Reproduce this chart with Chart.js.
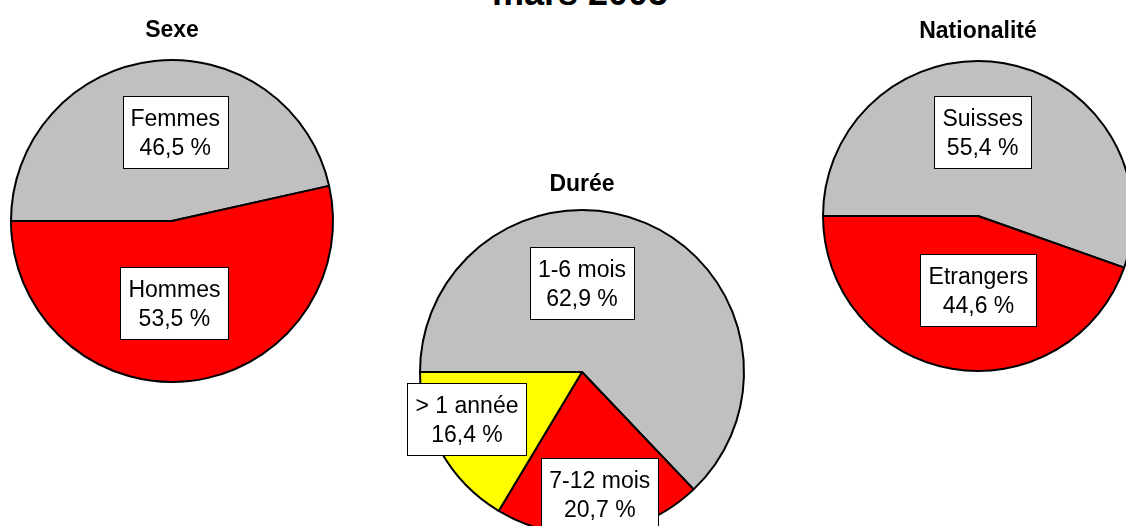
<!DOCTYPE html>
<html>
<head>
<meta charset="utf-8">
<script src="https://cdn.jsdelivr.net/npm/chart.js@4.4.1/dist/chart.umd.min.js"></script>
<style>
  html, body { margin: 0; padding: 0; background: #ffffff; width: 1126px; height: 526px; overflow: hidden; }
  #wrap { position: relative; width: 1126px; height: 526px; overflow: hidden; }
  #wrap canvas { position: absolute; left: 0; top: 0; }
  #mainTitle {
    position: absolute; left: 490px; top: -27px; width: 180px; text-align: center; white-space: nowrap;
    font: bold 36px "Liberation Sans", Arial, sans-serif; line-height: 40px; color: #000;
  }
</style>
</head>
<body>
<div id="wrap">
  <div id="mainTitle">mars 2005</div>
  <canvas id="cSexe" width="1126" height="526"></canvas>
  <canvas id="cDuree" width="1126" height="526"></canvas>
  <canvas id="cNat" width="1126" height="526"></canvas>
</div>
<script>
// ---- data ----
const sexeLabels = ['Femmes', 'Hommes'];
const sexeValues = [46.5, 53.5];

const dureeLabels = ['1-6 mois', '7-12 mois', '> 1 année'];
const dureeValues = [62.9, 20.7, 16.4];

const natLabels = ['Suisses', 'Etrangers'];
const natValues = [55.4, 44.6];

// ---- styles ----
const GRAY = '#C0C0C0', RED = '#FF0000', YELLOW = '#FFFF00';
const FONT = '"Liberation Sans", Arial, sans-serif';
const W = 1126, H = 526;

function fmtPct(v) { return v.toFixed(1).replace('.', ',') + ' %'; }

const boxLabelPlugin = {
  id: 'boxLabels',
  afterDatasetsDraw(chart, args, opts) {
    const ctx = chart.ctx;
    const meta = chart.getDatasetMeta(0);
    const labels = chart.data.labels;
    const values = chart.data.datasets[0].data;
    ctx.save();
    // sub title
    const a0 = meta.data[0];
    ctx.font = 'bold 23px ' + FONT;
    ctx.fillStyle = '#000';
    ctx.textAlign = 'center';
    ctx.textBaseline = 'alphabetic';
    ctx.fillText(opts.title, a0.x, a0.y - a0.outerRadius + opts.titleDy);
    // labels in boxes
    ctx.font = '23px ' + FONT;
    meta.data.forEach((arc, i) => {
      const off = opts.offsets[i];
      const cx = arc.x + off[0] * arc.outerRadius;
      const cy = arc.y + off[1] * arc.outerRadius;
      const l1 = labels[i], l2 = fmtPct(values[i]);
      const tw = Math.max(ctx.measureText(l1).width, ctx.measureText(l2).width);
      const bw = Math.round(tw + 16), bh = 72;
      const bx = Math.round(cx - bw / 2) + 0.5, by = Math.round(cy - bh / 2) + 0.5;
      ctx.fillStyle = '#ffffff';
      ctx.fillRect(bx, by, bw, bh);
      ctx.strokeStyle = '#000';
      ctx.lineWidth = 1;
      ctx.strokeRect(bx, by, bw, bh);
      ctx.fillStyle = '#000';
      ctx.fillText(l1, cx, cy - 6);
      ctx.fillText(l2, cx, cy + 23);
    });
    ctx.restore();
  }
};

function makePie(id, labels, values, colors, cx, cy, r, title, titleDy, offsets) {
  const a = Math.min(cx, W - cx), b = Math.min(cy, H - cy);
  return new Chart(document.getElementById(id), {
    type: 'pie',
    data: {
      labels: labels,
      datasets: [{
        data: values,
        backgroundColor: colors,
        borderColor: '#000000',
        borderWidth: 2,
        radius: r,
        clip: false
      }]
    },
    options: {
      responsive: false,
      animation: false,
      rotation: -90,
      layout: { padding: { left: cx - a, right: W - cx - a, top: cy - b, bottom: H - cy - b } },
      plugins: {
        legend: { display: false },
        tooltip: { enabled: false },
        boxLabels: { title: title, titleDy: titleDy, offsets: offsets }
      },
      events: []
    },
    plugins: [boxLabelPlugin]
  });
}

makePie('cSexe', sexeLabels, sexeValues, [GRAY, RED], 172, 221, 161, 'Sexe', -23,
  [[0.02, -0.55], [0.015, 0.51]]);
makePie('cDuree', dureeLabels, dureeValues, [GRAY, RED, YELLOW], 582, 372, 162, 'Durée', -19,
  [[0, -0.55], [0.11, 0.75], [-0.71, 0.29]]);
makePie('cNat', natLabels, natValues, [GRAY, RED], 978, 216, 155, 'Nationalité', -23,
  [[0.03, -0.54], [0.003, 0.48]]);
</script>
</body>
</html>
